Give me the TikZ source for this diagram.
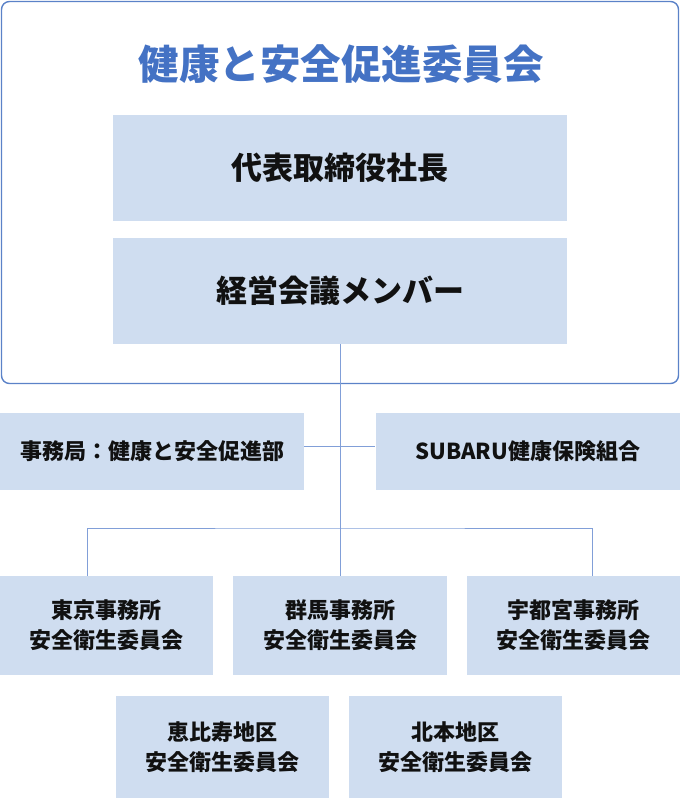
\documentclass[tikz,border=0pt]{standalone}
\usepackage{fontspec}
\setmainfont{Noto Sans CJK JP}
\definecolor{boxfill}{HTML}{CFDDF0}
\definecolor{titleblue}{HTML}{4472C4}
\definecolor{linec}{HTML}{819FD8}
\definecolor{framec}{HTML}{5B82C8}
\definecolor{txt}{HTML}{111111}
\begin{document}
\begin{tikzpicture}[x=1pt,y=-1pt,
  box/.style={fill=boxfill, draw=none, inner sep=0pt, text=txt, align=center},
  bigbox/.style={box, minimum width=454pt, minimum height=106pt, font=\fontsize{31}{36}\selectfont\bfseries},
  midbox/.style={box, minimum height=77pt, font=\fontsize{22}{26}\selectfont\bfseries},
  smallbox/.style={box, minimum width=213pt, font=\fontsize{22}{30}\selectfont\bfseries},
  conn/.style={draw=linec, line width=1pt}]
\useasboundingbox (0,0) rectangle (680,798);
\node[draw=framec, line width=1.4pt, rounded corners=8pt, minimum width=677pt, minimum height=382pt, inner sep=0pt] (frame) at (340,192.5) {};
\node[text=titleblue, font=\fontsize{40.5}{46}\selectfont\bfseries, inner sep=0pt] (title) at (341,64) {健康と安全促進委員会};
\node[bigbox] (ceo) at (340,168) {代表取締役社長};
\node[bigbox] (mgr) at (340,291) {経営会議メンバー};
\node[midbox, minimum width=304pt] (sec) at (152,451) {事務局：健康と安全促進部};
\node[midbox, minimum width=304.5pt] (kenpo) at (527.75,451) {SUBARU健康保険組合};
\node[smallbox, minimum height=99pt] (tokyo) at (106.5,625.5) {東京事務所\\安全衛生委員会};
\node[smallbox, minimum height=99pt, minimum width=214pt] (gunma) at (340,625.5) {群馬事務所\\安全衛生委員会};
\node[smallbox, minimum height=99pt] (utsu) at (573.5,625.5) {宇都宮事務所\\安全衛生委員会};
\node[smallbox, minimum height=102pt] (ebisu) at (222.5,747) {恵比寿地区\\安全衛生委員会};
\node[smallbox, minimum height=102pt] (kitamoto) at (455.75,747) {北本地区\\安全衛生委員会};
\coordinate (bar) at (340,528);
\draw[conn] (mgr.south) -- (gunma.north);
\draw[conn] ([yshift=5pt]sec.east) -- ([yshift=5pt]kenpo.west);
\draw[conn] ([xshift=-19pt]tokyo.north) |- (bar) -| ([xshift=19pt]utsu.north);
\end{tikzpicture}
\end{document}
